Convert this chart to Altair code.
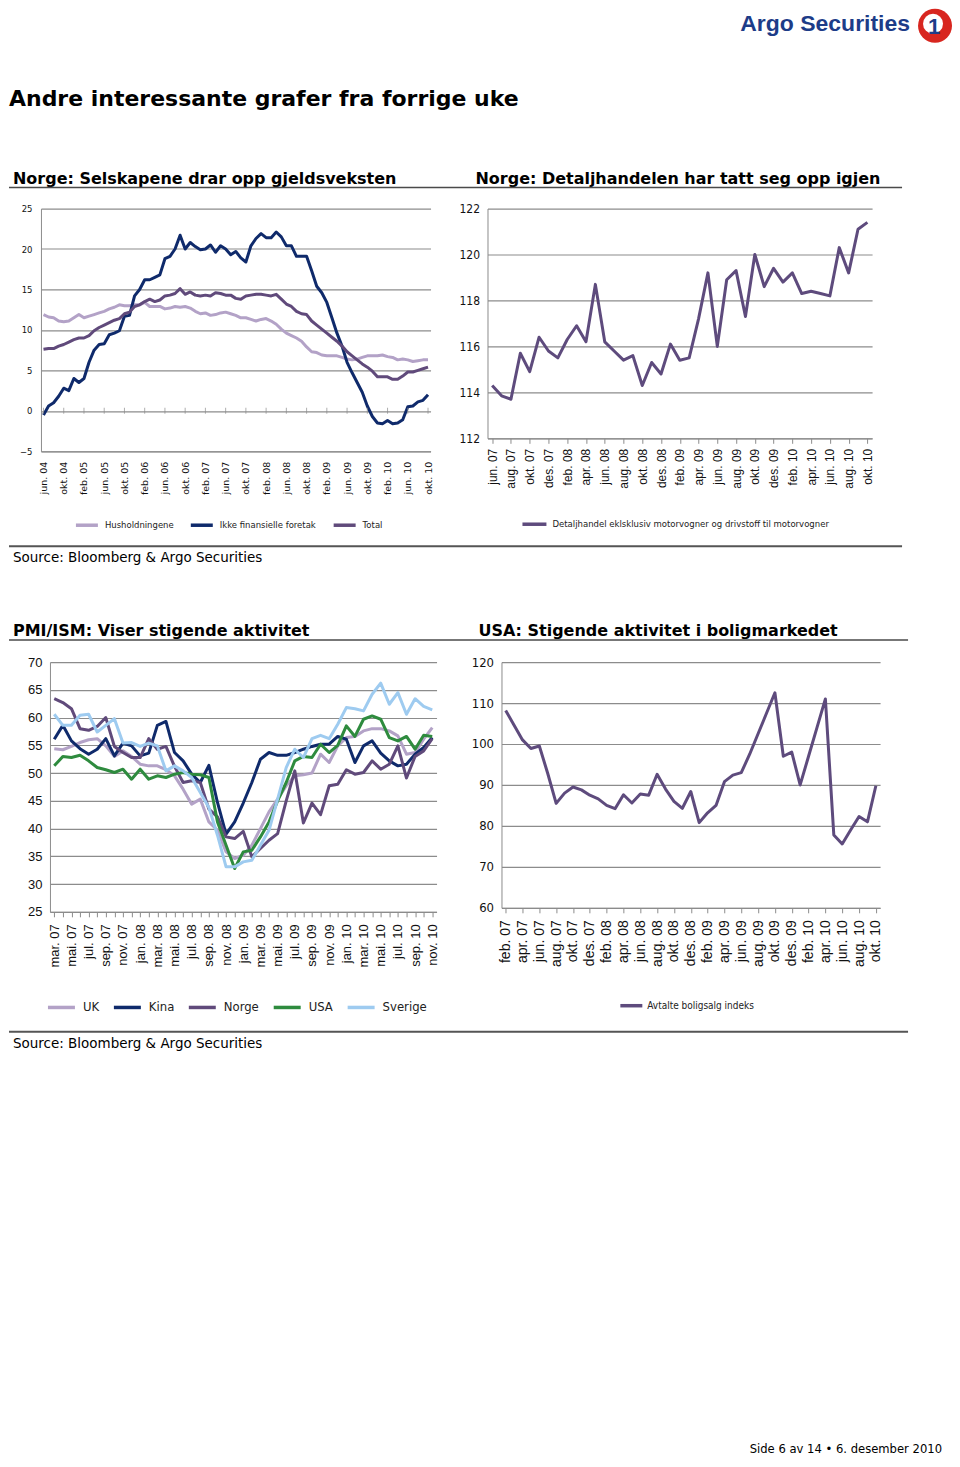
import altair as alt
import pandas as pd

# ---------------- labels ----------------
MONTHS = ["jan.", "feb.", "mar.", "apr.", "mai.", "jun.", "jul.", "aug.", "sep.", "okt.", "nov.", "des."]


def month_labels(year, month, n):
    out = []
    for k in range(n):
        m = month - 1 + k
        out.append(f"{MONTHS[m % 12]} {str(year + m // 12)[2:]}")
    return out


# ---------------- chart 1: Norge gjeldsvekst (jun.04 - okt.10) ----------------
lab1 = month_labels(2004, 6, 77)
names1 = ["Husholdningene", "Ikke finansielle foretak", "Total"]
husholdningene = [11.9, 11.6, 11.5, 11.1, 11.0, 11.1, 11.5, 11.9, 11.5, 11.7,
                  11.9, 12.1, 12.3, 12.6, 12.8, 13.1, 13.0, 13.0, 13.1, 13.1,
                  13.4, 12.9, 12.9, 12.9, 12.6, 12.7, 12.9, 12.8, 12.9, 12.7,
                  12.3, 12.0, 12.1, 11.8, 11.9, 12.1, 12.2, 12.0, 11.8, 11.5,
                  11.5, 11.3, 11.1, 11.3, 11.4, 11.1, 10.7, 10.1, 9.6, 9.3,
                  9.0, 8.6, 7.9, 7.3, 7.2, 6.9, 6.8, 6.8, 6.8, 6.6,
                  6.4, 6.3, 6.4, 6.6, 6.8, 6.8, 6.8, 6.9, 6.7, 6.6,
                  6.3, 6.4, 6.3, 6.1, 6.2, 6.3, 6.3]
ikke_finansielle = [-0.5, 0.6, 1.0, 1.8, 2.8, 2.5, 4.0, 3.5, 4.0, 6.0,
                    7.5, 8.2, 8.3, 9.4, 9.6, 9.9, 11.7, 11.8, 14.2, 15.0,
                    16.2, 16.2, 16.5, 16.8, 18.8, 19.1, 20.0, 21.7, 20.0, 20.8,
                    20.3, 19.9, 20.0, 20.5, 19.6, 20.4, 20.0, 19.3, 19.7, 18.9,
                    18.4, 20.4, 21.3, 21.9, 21.4, 21.4, 22.1, 21.5, 20.4, 20.4,
                    19.1, 19.1, 19.1, 17.3, 15.4, 14.6, 13.4, 11.5, 9.6, 8.0,
                    6.0, 4.7, 3.5, 2.3, 0.6, -0.7, -1.5, -1.6, -1.2, -1.6,
                    -1.5, -1.1, 0.5, 0.6, 1.1, 1.3, 2.0]
total = [7.6, 7.7, 7.7, 8.0, 8.2, 8.5, 8.8, 9.0, 9.0, 9.3,
         9.9, 10.3, 10.6, 10.9, 11.2, 11.4, 12.0, 12.2, 12.9, 13.1,
         13.5, 13.8, 13.5, 13.7, 14.2, 14.3, 14.5, 15.1, 14.4, 14.7,
         14.3, 14.2, 14.3, 14.2, 14.6, 14.5, 14.3, 14.3, 13.9, 13.8,
         14.2, 14.3, 14.4, 14.4, 14.3, 14.2, 14.4, 13.8, 13.2, 12.9,
         12.3, 12.0, 11.9, 11.1, 10.6, 10.1, 9.6, 9.1, 8.6, 8.0,
         7.3, 6.8, 6.3, 5.8, 5.4, 4.9, 4.2, 4.2, 4.2, 3.9,
         3.9, 4.3, 4.8, 4.8, 5.0, 5.2, 5.4]
colors1 = ["#b3a2c7", "#0f2a6b", "#604a7b"]

# ---------------- chart 2: Detaljhandel (jun.07 - okt.10) ----------------
lab2 = month_labels(2007, 6, 41)
names2 = ["Detaljhandel eklsklusiv motorvogner og drivstoff til motorvogner"]
detaljhandel = [114.3, 113.85, 113.7, 115.7, 114.9, 116.4, 115.8, 115.5, 116.3, 116.9,
                116.2, 118.7, 116.2, 115.8, 115.4, 115.6, 114.3, 115.3, 114.8, 116.1,
                115.4, 115.5, 117.2, 119.2, 116.0, 118.9, 119.3, 117.3, 120.0, 118.6,
                119.4, 118.8, 119.2, 118.3, 118.4, 118.3, 118.2, 120.3, 119.2, 121.1,
                121.4]
colors2 = ["#5e4b7d"]

# ---------------- chart 3: PMI/ISM (mar.07 - nov.10) ----------------
lab3 = month_labels(2007, 3, 45)
names3 = ["UK", "Kina", "Norge", "USA", "Sverige"]
uk = [54.4, 54.2, 54.8, 55.5, 56.0, 56.2, 54.9, 53.0, 54.0, 53.0,
      51.6, 51.3, 51.3, 50.6, 49.5, 47.1, 44.4, 45.3, 41.2, 39.7,
      35.8, 34.6, 35.2, 37.0, 40.0, 43.0, 45.3, 47.7, 49.5, 49.7,
      50.0, 53.4, 51.9, 54.9, 56.4, 56.6, 57.6, 58.0, 58.0, 57.6,
      56.7, 53.4, 53.7, 56.1, 58.2]
kina = [56.1, 58.6, 55.8, 54.4, 53.4, 54.3, 56.2, 53.1, 55.4, 54.9,
        53.1, 53.6, 58.6, 59.3, 53.7, 52.2, 49.8, 48.3, 51.4, 44.7,
        39.0, 41.2, 44.6, 48.3, 52.5, 53.7, 53.2, 53.2, 53.7, 54.3,
        54.8, 55.2, 55.2, 56.6, 56.1, 51.9, 54.9, 55.8, 53.6, 52.2,
        51.3, 51.6, 53.4, 54.6, 56.4]
norge = [63.4, 62.7, 61.6, 58.0, 57.7, 58.4, 60.0, 54.8, 53.7, 52.8,
         52.8, 56.2, 54.3, 54.8, 51.2, 48.3, 48.6, 48.3, 43.5, 42.1,
         38.5, 38.2, 39.5, 34.9, 36.4, 37.9, 39.1, 45.0, 50.4, 41.0,
         44.6, 42.5, 47.7, 48.0, 50.6, 49.8, 50.1, 52.2, 50.7, 51.6,
         54.9, 49.1, 53.0, 54.0, 56.2]
usa = [51.3, 53.0, 52.8, 53.2, 52.2, 51.0, 50.6, 50.1, 50.7, 48.9,
       50.7, 48.9, 49.5, 49.2, 49.8, 50.1, 49.8, 49.7, 49.2, 41.2,
       37.0, 32.8, 35.8, 36.1, 38.5, 41.2, 45.0, 48.3, 52.2, 53.0,
       52.8, 55.2, 53.7, 55.0, 58.5, 56.6, 59.7, 60.3, 59.7, 56.4,
       55.8, 56.6, 54.3, 56.8, 56.6]
sverige = [60.6, 58.6, 58.6, 60.4, 60.6, 57.4, 58.6, 59.8, 55.4, 55.5,
           54.8, 55.4, 54.9, 50.4, 51.3, 50.4, 49.2, 46.5, 43.8, 38.8,
           33.1, 33.1, 34.0, 34.3, 37.0, 39.7, 45.3, 51.0, 54.3, 52.8,
           56.2, 56.8, 56.2, 58.8, 61.8, 61.6, 61.2, 64.2, 66.2, 62.4,
           64.5, 60.6, 63.4, 62.0, 61.4]
colors3 = ["#b3a2c7", "#0f2a6b", "#604a7b", "#2e8b3e", "#9ecbf0"]

# ---------------- chart 4: Avtalte boligsalg (feb.07 - okt.10) ----------------
lab4 = month_labels(2007, 2, 45)
names4 = ["Avtalte boligsalg indeks"]
boligsalg = [108.2, 104.6, 101.0, 98.9, 99.5, 92.8, 85.5, 88.0, 89.5, 88.8,
             87.5, 86.6, 85.0, 84.2, 87.6, 85.6, 87.8, 87.5, 92.6, 89.0,
             86.0, 84.3, 88.4, 80.8, 83.2, 85.0, 90.8, 92.4, 93.0, 97.5,
             102.5, 107.5, 112.5, 97.0, 98.0, 90.0, 97.0, 104.0, 111.0, 77.8,
             75.6, 79.0, 82.3, 81.0, 89.8]
colors4 = ["#5e4b7d"]

# ---------------- fonts / styles ----------------
VERDANA = "Verdana, DejaVu Sans"
ARIAL = "Arial, Liberation Sans"
NARROW = "Arial Narrow, Liberation Sans Narrow, DejaVu Sans Condensed, Liberation Sans"
GRID = "#8c8c8c"

base = pd.DataFrame({"k": [0]})


def long_df(labels, names, series):
    rows = []
    for name, vals in zip(names, series):
        for lab, v in zip(labels, vals):
            rows.append({"mnd": lab, "serie": name, "verdi": v})
    return pd.DataFrame(rows)


def line_chart(df, labels, tick_step, label_step, names, colors, ydom, ystep, width, height,
               xfont, xsize, yfont, ysize, xticks, xpad, ypad,
               legx, legy, legfont, legsize, symw, colpad, legoff):
    shown = labels[::label_step]
    label_expr = "indexof([" + ",".join(f"'{s}'" for s in shown) + "], datum.label) >= 0 ? datum.label : ''"
    return alt.Chart(df).mark_line(strokeWidth=3, strokeJoin="round").encode(
        x=alt.X("mnd:N", sort=labels, title=None,
                scale=alt.Scale(type="point", padding=0.5),
                axis=alt.Axis(values=labels[::tick_step], labelAngle=-90,
                              labelExpr=label_expr,
                              labelFont=xfont, labelFontSize=xsize, labelColor="#111",
                              ticks=xticks, tickSize=5, tickColor=GRID,
                              domain=True, domainColor=GRID, grid=False,
                              labelPadding=xpad, labelOverlap=False)),
        y=alt.Y("verdi:Q", title=None,
                scale=alt.Scale(domain=ydom, nice=False, zero=False),
                axis=alt.Axis(values=list(range(ydom[0], ydom[1] + 1, ystep)),
                              labelFont=yfont, labelFontSize=ysize, labelColor="#111",
                              ticks=False, domain=True, domainColor=GRID,
                              grid=True, gridColor=GRID, gridWidth=1.2,
                              labelPadding=ypad)),
        color=alt.Color("serie:N", sort=names,
                        scale=alt.Scale(domain=names, range=colors),
                        legend=alt.Legend(orient="none", legendX=legx, legendY=legy,
                                          direction="horizontal", title=None,
                                          symbolType="stroke", symbolSize=symw * symw,
                                          symbolStrokeWidth=3.5,
                                          labelFont=legfont, labelFontSize=legsize,
                                          labelColor="#222", labelLimit=600,
                                          labelOffset=legoff, columnPadding=colpad,
                                          padding=0)),
    ).properties(width=width, height=height)


def extent_guard(top, bottom):
    # invisible rule fixing the vertical extent of a chart row
    return alt.Chart(base).mark_rule(opacity=0).encode(
        x=alt.value(1), y=alt.value(top), y2=alt.value(bottom))


c1 = line_chart(long_df(lab1, names1, [husholdningene, ikke_finansielle, total]),
                lab1, 4, 4, names1, colors1, [-5, 25], 5, 390, 243,
                VERDANA, 9.5, VERDANA, 8.5, False, 10, 9,
                33, 304, VERDANA, 8.5, 22, 10, 5)
c2 = line_chart(long_df(lab2, names2, [detaljhandel]),
                lab2, 2, 2, names2, colors2, [112, 122], 2, 385, 230,
                ARIAL, 12, NARROW, 12, True, 5, 8,
                33, 302, NARROW, 9.5, 24, 10, 4)
c3 = line_chart(long_df(lab3, names3, [uk, kina, norge, usa, sverige]),
                lab3, 1, 2, names3, colors3, [25, 70], 5, 387, 250,
                ARIAL, 13, ARIAL, 13, True, 7, 8,
                -4, 330, NARROW, 13, 27, 7, 6)
c4 = line_chart(long_df(lab4, names4, [boligsalg]),
                lab4, 2, 2, names4, colors4, [60, 120], 10, 379, 246,
                ARIAL, 14, NARROW, 13, True, 7, 8,
                117, 331, NARROW, 10, 22, 10, 3)

# small tick marks on the zero line of chart 1 (Excel axis crossing at 0)
zero_ticks = alt.Chart(pd.DataFrame({"mnd": lab1[::4], "verdi": [0] * len(lab1[::4])})).mark_tick(
    orient="vertical", color=GRID, size=6, thickness=1).encode(
    x=alt.X("mnd:N", sort=lab1), y=alt.Y("verdi:Q"))

c1g = alt.layer(c1, zero_ticks, extent_guard(-10, 330))
c3g = alt.layer(c3, extent_guard(-10, 360))


# ---------------- decoration helpers ----------------
def txt(x, y, s, size, weight="normal", font=VERDANA, color="#000", align="left",
        baseline="alphabetic"):
    return alt.Chart(base).mark_text(text=s, fontSize=size, fontWeight=weight, font=font,
                                     color=color, align=align, baseline=baseline).encode(
        x=alt.value(x), y=alt.value(y))


def hline(x1, x2, y, color="#4a4a4a", w=1.5):
    return alt.Chart(base).mark_rule(color=color, strokeWidth=w).encode(
        x=alt.value(x1), x2=alt.value(x2), y=alt.value(y))


def spacer(w):
    return alt.Chart(base).mark_point(opacity=0, size=1).encode(
        x=alt.value(w / 2), y=alt.value(0.5)).properties(width=w, height=1)


logo_ball = alt.Chart(base).mark_point(filled=True, shape="circle", color="#d8261f",
                                       size=34 * 34, opacity=1).encode(
    x=alt.value(927), y=alt.value(17))
logo_inner = alt.Chart(base).mark_point(filled=True, shape="circle", color="#ffffff",
                                        size=20 * 20, opacity=1).encode(
    x=alt.value(925), y=alt.value(15))

# header: chart y 0..190 (page 8..198)
header = alt.layer(
    txt(902, 22, "Argo Securities", 23, "bold", ARIAL, "#1d3c88", "right"),
    logo_ball, logo_inner,
    txt(926, 25, "1", 22, "bold", ARIAL, "#1d3c88", "center"),
    txt(0, 97, "Andre interessante grafer fra forrige uke", 22, "bold", VERDANA),
    txt(4, 175, "Norge: Selskapene drar opp gjeldsveksten", 16, "bold", VERDANA),
    txt(467, 175, "Norge: Detaljhandelen har tatt seg opp igjen", 16, "bold", VERDANA),
    hline(0, 894, 179),
).properties(width=941, height=190)

rowB = alt.hconcat(spacer(32), c1g, spacer(57), c2, spacing=0, bounds="flush").resolve_scale(
    color="independent").resolve_legend(color="independent")

# rowC: page 538..652
rowC = alt.layer(
    hline(0, 894, 8, "#555", 2),
    txt(4, 24, "Source: Bloomberg & Argo Securities", 13.5, "normal", VERDANA),
    txt(4, 98, "PMI/ISM: Viser stigende aktivitet", 16, "bold", VERDANA),
    txt(470, 98, "USA: Stigende aktivitet i boligmarkedet", 16, "bold", VERDANA),
    hline(0, 900, 102),
).properties(width=941, height=114)

rowD = alt.hconcat(spacer(41), c3g, spacer(65), c4, spacing=0, bounds="flush").resolve_scale(
    color="independent").resolve_legend(color="independent")

# rowE: page 1020..1453
rowE = alt.layer(
    hline(0, 900, 10, "#555", 2),
    txt(4, 26, "Source: Bloomberg & Argo Securities", 13.5, "normal", VERDANA),
    txt(934, 432, "Side 6 av 14 \u2022 6. desember 2010", 11.6, "normal", VERDANA, "#000", "right"),
).properties(width=941, height=433)

chart = alt.vconcat(header, rowB, rowC, rowD, rowE, spacing=0).resolve_scale(
    color="independent").resolve_legend(color="independent").properties(
    padding=0, background="white"
).configure_view(stroke=None)

chart.save("out.html", embed_options={"renderer": "svg", "actions": False})
